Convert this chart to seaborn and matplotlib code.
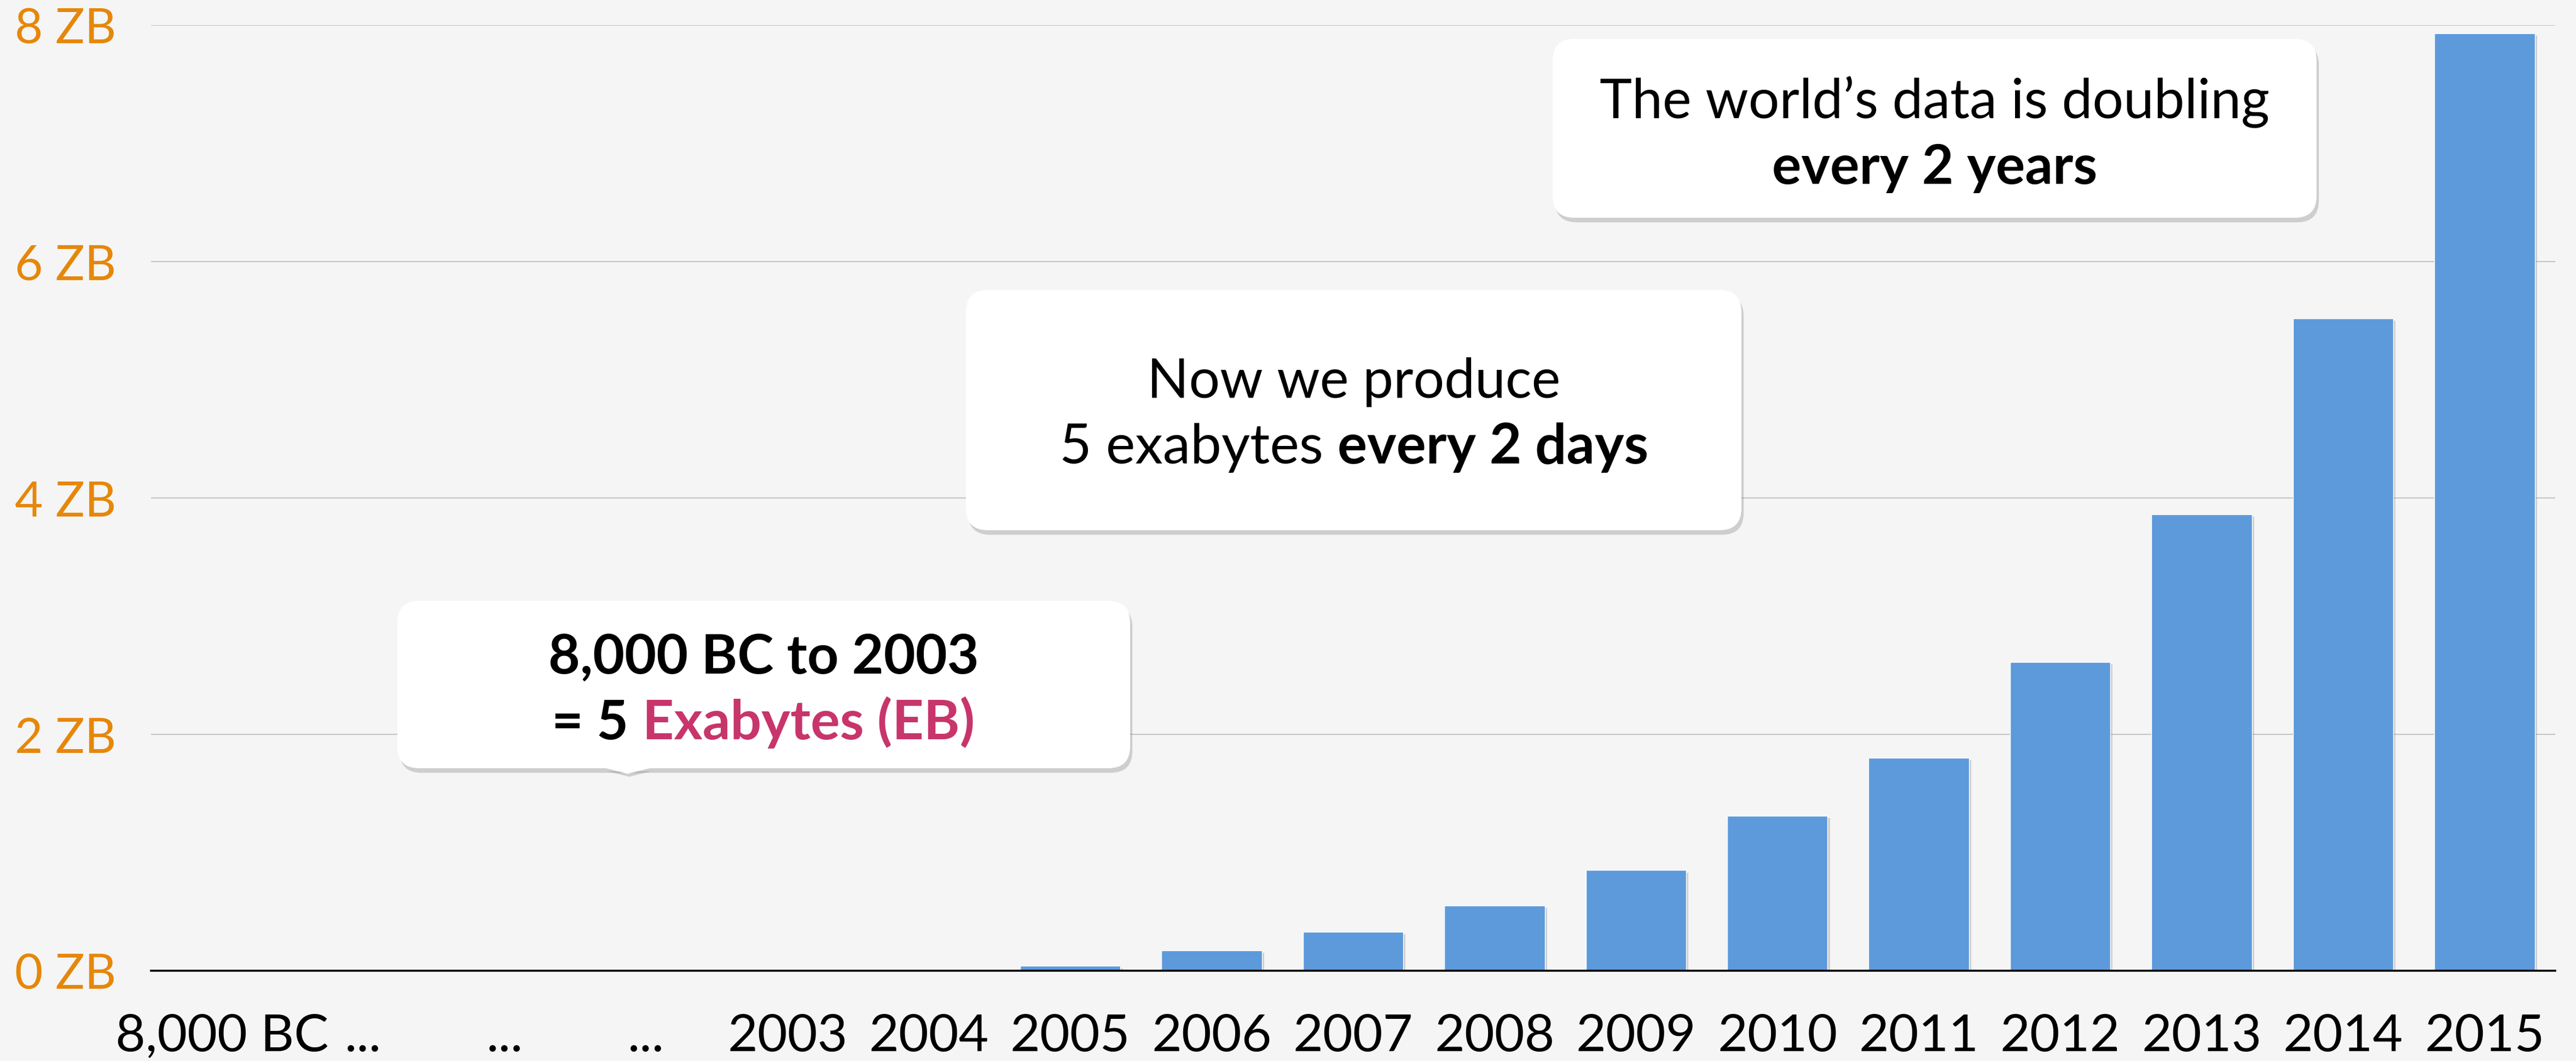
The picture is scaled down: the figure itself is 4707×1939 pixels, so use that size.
import matplotlib
matplotlib.use("Agg")
import numpy as np
import pandas as pd
import matplotlib.pyplot as plt
import matplotlib.patheffects as pe
from matplotlib.patches import FancyBboxPatch, Polygon
from matplotlib.transforms import IdentityTransform
import seaborn as sns

# dane (ZB)
categories = ["8,000 BC", "...", "...", "...", "2003", "2004", "2005", "2006", "2007",
              "2008", "2009", "2010", "2011", "2012", "2013", "2014", "2015"]
values = [0, 0, 0, 0, 0, 0, 0.04, 0.17, 0.33, 0.55, 0.85, 1.31, 1.80, 2.61, 3.86, 5.52, 7.93]
y_ticks = [0, 2, 4, 6, 8]
y_labels = ["0 ZB", "2 ZB", "4 ZB", "6 ZB", "8 ZB"]

BG = "#F5F5F5"
BAR = "#5D9ADB"
ORANGE = "#E6870A"
MAGENTA = "#C7356B"
FONT = "Lato"

W, H = 4707, 1940
DPI = 100

sns.set_style("white")
plt.rcParams["font.family"] = [FONT, "DejaVu Sans"]

fig = plt.figure(figsize=(W / DPI, H / DPI), dpi=DPI, facecolor=BG)
ax = fig.add_axes([276 / W, 1 - 1775 / H, (4669 - 276) / W, (1775 - 47) / H])
ax.set_facecolor(BG)

df = pd.DataFrame({"cat": range(len(categories)), "val": values})
sns.barplot(data=df, x="cat", y="val", color=BAR, width=0.71, saturation=1,
            ax=ax, zorder=2)

# cień słupków
for p in ax.patches:
    p.set_path_effects([pe.SimplePatchShadow(offset=(3, -3), shadow_rgbFace="#888888", alpha=0.35),
                        pe.Normal()])

ax.set_xlim(-0.5, len(categories) - 0.5)
ax.set_ylim(0, 8)
ax.set_yticks(y_ticks)
ax.set_yticklabels(y_labels)
ax.set_xticks(range(len(categories)))
ax.set_xticklabels(categories)
ax.set_xlabel("")
ax.set_ylabel("")

ax.tick_params(axis="y", length=0, pad=46, labelsize=64, labelcolor=ORANGE)
ax.tick_params(axis="x", length=0, pad=56, labelsize=68, labelcolor="black")

ax.yaxis.grid(True, color="#C4C4C4", linewidth=1.5, zorder=0)
ax.set_axisbelow(True)
for s in ["left", "right", "top"]:
    ax.spines[s].set_visible(False)
ax.spines["bottom"].set_color("black")
ax.spines["bottom"].set_linewidth(2.6)
ax.spines["bottom"].set_zorder(3)


def px(x, y):
    # współrzędne pikselowe od góry -> od dołu
    return x, H - y


def draw_box(x0, y0, x1, y1, pointer=None):
    bx, by = px(x0, y1)
    box = FancyBboxPatch((bx, by), x1 - x0, y1 - y0,
                         boxstyle="round,pad=0,rounding_size=40",
                         transform=IdentityTransform(), facecolor="white",
                         edgecolor="none", zorder=5)
    box.set_path_effects([pe.SimplePatchShadow(offset=(3, -6), shadow_rgbFace="#777777", alpha=0.3),
                          pe.Normal()])
    fig.add_artist(box)
    if pointer is not None:
        cx, cy = px(pointer, y1)
        tri = Polygon([[cx - 40, cy], [cx + 40, cy], [cx, cy - 10]], closed=True,
                      transform=IdentityTransform(), facecolor="white", edgecolor="none",
                      zorder=5)
        tri.set_path_effects([pe.SimplePatchShadow(offset=(2, -4), shadow_rgbFace="#777777", alpha=0.3),
                              pe.Normal()])
        fig.add_artist(tri)


renderer = fig.canvas.get_renderer()


def draw_line(cx, base_y, pieces, size=72):
    # linia tekstu złożona z kawałków o różnym stylu, wyśrodkowana
    texts = []
    for s, weight, color in pieces:
        t = fig.text(0, 0, s, fontsize=size, fontweight=weight, color=color,
                     transform=IdentityTransform(), ha="left", va="baseline", zorder=6)
        texts.append(t)
    space = fig.text(0, 0, "a a", fontsize=size, transform=IdentityTransform())
    nsp = fig.text(0, 0, "aa", fontsize=size, transform=IdentityTransform())
    gap = space.get_window_extent(renderer).width - nsp.get_window_extent(renderer).width
    space.remove()
    nsp.remove()
    widths = [t.get_window_extent(renderer).width for t in texts]
    total = sum(widths) + gap * (len(texts) - 1)
    x = cx - total / 2
    _, y = px(0, base_y)
    for t, w in zip(texts, widths):
        t.set_position((x, y))
        x += w + gap


# ramka 1
draw_box(726, 1099, 2065, 1405, pointer=1147)
draw_line(1395, 1231, [("8,000 BC to 2003", "bold", "black")])
draw_line(1395, 1351, [("= 5", "bold", "black"), ("Exabytes (EB)", "bold", MAGENTA)])

# ramka 2
draw_box(1765, 531, 3182, 970)
draw_line(2474, 727, [("Now we produce", "normal", "black")])
draw_line(2474, 847, [("5 exabytes", "normal", "black"), ("every 2 days", "bold", "black")], size=73)

# ramka 3
draw_box(2837, 72, 4233, 399)
draw_line(3535, 216, [("The world\u2019s data is doubling", "normal", "black")])
draw_line(3535, 336, [("every 2 years", "bold", "black")])

fig.savefig("out.png", dpi=DPI, facecolor=BG)
